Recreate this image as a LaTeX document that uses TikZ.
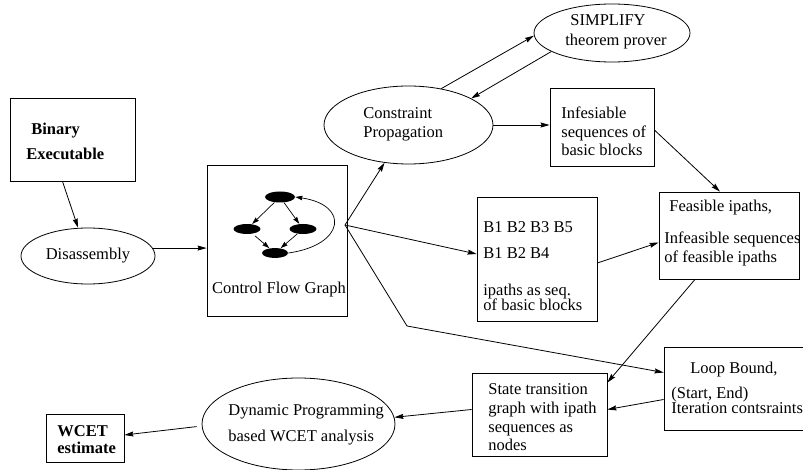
\documentclass[tikz,border=0pt]{standalone}
\usepackage{fontspec}
\setmainfont{Liberation Serif}
\usetikzlibrary{arrows.meta,shapes.geometric,calc}
\begin{document}
\begin{tikzpicture}[x=1pt,y=-1pt,
  every node/.style={font=\fontsize{16.5}{19}\selectfont},
  box/.style={draw,rectangle,inner sep=0pt},
  oval/.style={draw,ellipse,inner sep=0pt},
  txt/.style={anchor=base west,inner sep=0pt},
  ctxt/.style={anchor=base,inner sep=0pt},
  btxt/.style={anchor=base west,inner sep=0pt,font=\fontsize{16.5}{19}\selectfont\bfseries},
  blob/.style={ellipse,fill=black,inner sep=0pt},
  arr/.style={-{Stealth[length=9pt,width=5pt,inset=1pt]},line width=0.8pt},
  sarr/.style={-{Stealth[length=7pt,width=4.5pt,inset=0.5pt]},line width=0.7pt},
  line width=0.8pt]
\useasboundingbox (0,0) rectangle (803,470);
\clip (0,0) rectangle (803,470);

% boxes and ellipses
\node[box,minimum width=125,minimum height=83] (bin) at (72.5,139.5) {};
\node[oval,minimum width=134,minimum height=56] (dis) at (88,256) {Disassembly};
\node[box,minimum width=140,minimum height=151] (cfg) at (277,240.5) {};
\node[oval,minimum width=169,minimum height=78] (cp) at (408.5,125) {};
\node[oval,minimum width=156,minimum height=58] (simp) at (612,33) {};
\node[box,minimum width=104,minimum height=78] (inf) at (602,127) {};
\node[box,minimum width=120,minimum height=124] (b1) at (537,259) {};
\node[box,minimum width=140,minimum height=87] (fea) at (729,235.5) {};
\node[box,minimum width=176,minimum height=83] (loop) at (752,388.5) {};
\node[box,minimum width=135,minimum height=83] (st) at (539.5,414.5) {};
\node[oval,minimum width=193,minimum height=92] (dp) at (298.5,424) {};
\node[box,minimum width=78,minimum height=48] (wcet) at (85,438) {};

% texts
\node[btxt] (bin1) at (31,135) {Binary};
\node[btxt] (bin2) at (26,160) {Executable};
\node[ctxt] (cfgt) at (279,294) {Control Flow Graph};
\node[txt] (cp1) at (363,119) {Constraint};
\node[txt] (cp2) at (363,138) {Propagation};
\node[ctxt] (simp1) at (608,26) {SIMPLIFY};
\node[ctxt] (simp2) at (616,46) {theorem prover};
\node[txt] (inf1) at (561,119) {Infesiable};
\node[txt] (inf2) at (561,138) {sequences of};
\node[txt] (inf3) at (561,156) {basic blocks};
\node[txt] (b1a) at (483,233) {B1 B2 B3 B5};
\node[txt] (b1b) at (483,259) {B1 B2 B4};
\node[txt] (b1c) at (483,295) {ipaths as seq.};
\node[txt] (b1d) at (483,310) {of basic blocks};
\node[txt] (fea1) at (669,212) {Feasible ipaths,};
\node[txt] (fea2) at (664,244) {Infeasible sequences};
\node[txt] (fea3) at (664,263) {of feasible ipaths};
\node[txt] (loop1) at (690,373) {Loop Bound,};
\node[txt] (loop2) at (671,398) {(Start, End)};
\node[txt] (loop3) at (671,413) {Iteration contsraints};
\node[txt] (st1) at (488,394) {State transition};
\node[txt] (st2) at (488,413) {graph with ipath};
\node[txt] (st3) at (488,432) {sequences as};
\node[txt] (st4) at (488,450) {nodes};
\node[txt] (dp1) at (228,415) {Dynamic Programming};
\node[txt] (dp2) at (228,441) {based WCET analysis};
\node[btxt] (wc1) at (57,436) {WCET};
\node[btxt] (wc2) at (57,453) {estimate};

% small control flow graph
\node[blob,minimum width=30,minimum height=11] (n1) at (280,197) {};
\node[blob,minimum width=27,minimum height=10] (n2) at (247,229) {};
\node[blob,minimum width=27,minimum height=10] (n3) at (303,229) {};
\node[blob,minimum width=26,minimum height=10] (n4) at (275,253) {};
\draw[sarr] (n1) -- (n2);
\draw[sarr] (n1) -- (n3);
\draw[sarr,shorten <=3pt] (n2) -- (n4);
\draw[sarr] (n3) -- (n4);
\draw[sarr] (n4.east) .. controls (345,245) and (350,205) .. (n1.east);

% connectors
\coordinate (hub) at (345,225);
\coordinate (bend) at (407,326);
\draw[arr] ([xshift=-10]bin.south) -- ([xshift=-10]dis.north);
\draw[arr] (dis.7) -- (dis.7 -| cfg.west);
\draw[arr] (hub) -- (cp);
\draw[arr] (hub) -- ([yshift=5]b1.west);
\draw[arr] (hub) -- (bend) -- ([yshift=16]loop.west);
\draw[arr] (cp.48) -- (simp.182);
\draw[arr] (simp.197) -- (cp.23);
\draw[arr] (cp.east) -- (cp.east -| inf.west);
\draw[arr] ([yshift=-3]inf.east) -- ([xshift=-9]fea.north);
\draw[arr] ([yshift=-4]b1.east) -- ([yshift=-7]fea.west);
\draw[arr] ([xshift=-34]fea.south) -- ([yshift=32]st.east);
\draw[arr] ([yshift=-11]loop.west) -- ([yshift=5]st.east);
\draw[arr] ([yshift=5]st.west) -- (dp.4);
\draw[arr,shorten <=5pt] ([yshift=-2]dp.west) -- ([yshift=3]wcet.east);
\end{tikzpicture}
\end{document}
